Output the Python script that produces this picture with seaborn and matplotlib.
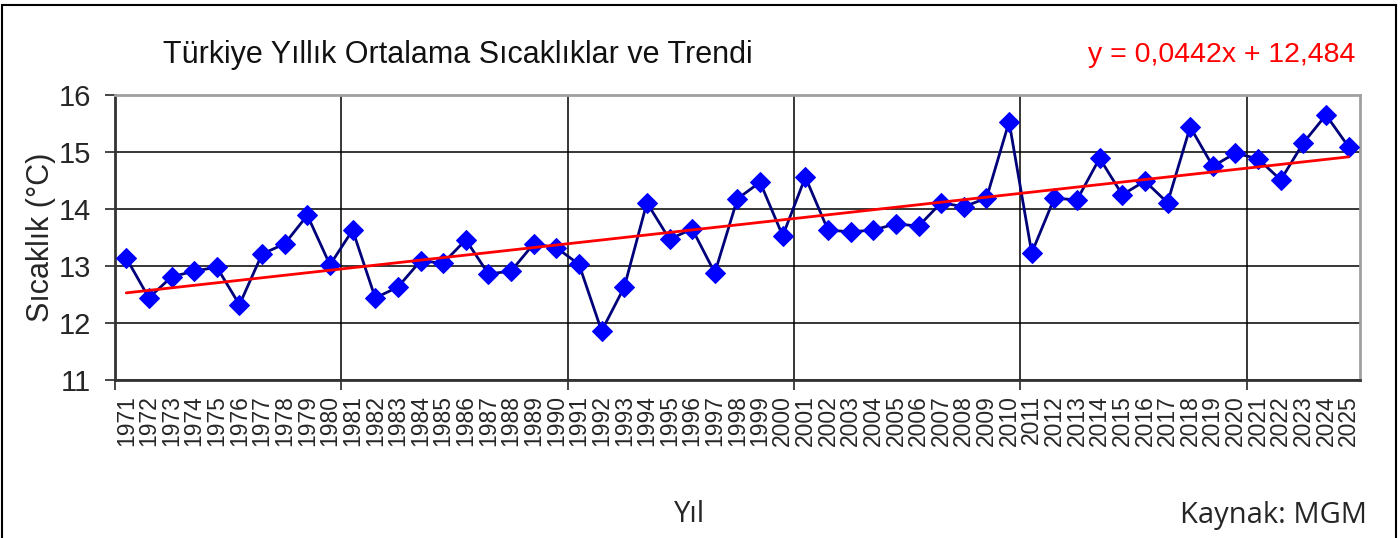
import numpy as np
import pandas as pd
import seaborn as sns
import matplotlib.pyplot as plt
from matplotlib.patches import Rectangle
from matplotlib.ticker import FixedLocator, NullFormatter

# data
years = list(range(1971, 2026))
temps = [13.14, 12.44, 12.81, 12.91, 12.98, 12.32, 13.21, 13.39, 13.89, 13.02,
         13.63, 12.44, 12.63, 13.09, 13.05, 13.46, 12.86, 12.91, 13.39, 13.32,
         13.03, 11.86, 12.63, 14.11, 13.47, 13.65, 12.88, 14.18, 14.47, 13.53,
         14.56, 13.63, 13.60, 13.63, 13.74, 13.70, 14.11, 14.04, 14.19, 15.53,
         13.23, 14.19, 14.16, 14.89, 14.25, 14.49, 14.11, 15.44, 14.75, 14.98,
         14.88, 14.51, 15.16, 15.65, 15.09]
slope = 0.0442
intercept = 12.484

df = pd.DataFrame({"idx": np.arange(len(years)), "year": years, "temp": temps})
df["trend"] = intercept + slope * (df["idx"] + 1)

sns.set_style("white")
plt.rcParams["font.family"] = ["Liberation Sans", "DejaVu Sans"]

fig = plt.figure(figsize=(14, 5.38), dpi=100)
ax = fig.add_axes([0.0821, 0.2937, 0.9714 - 0.0821, 0.8234 - 0.2937])

sns.lineplot(data=df, x="idx", y="temp", ax=ax, color="#00007a", linewidth=2,
             marker="D", markersize=10, markerfacecolor="#0000ff",
             markeredgecolor="#0000ff", zorder=3)
sns.lineplot(data=df, x="idx", y="trend", ax=ax, color="#ff0000", linewidth=2, zorder=4)

ax.set_xlim(-0.5, len(years) - 0.5)
ax.set_ylim(11, 16)
ax.set_yticks([11, 12, 13, 14, 15, 16])
ax.tick_params(axis="y", labelsize=21, length=7, width=1.2, direction="out", left=True, pad=10)

# category boundaries every 10 years, labels at centres
ax.xaxis.set_major_locator(FixedLocator(np.arange(-0.5, len(years), 10)))
ax.xaxis.set_major_formatter(NullFormatter())
ax.xaxis.set_minor_locator(FixedLocator(df["idx"]))
ax.set_xticklabels([str(y) for y in years], minor=True, rotation=90)
ax.tick_params(axis="x", which="major", length=7, width=1.2, direction="out", bottom=True)
ax.tick_params(axis="x", which="minor", length=0, labelsize=16.5, pad=11)

ax.grid(True, which="major", color="black", linewidth=1.1)
ax.set_axisbelow(True)
for side in ["left", "bottom"]:
    ax.spines[side].set_color("#333333")
    ax.spines[side].set_linewidth(2)
for side in ["top", "right"]:
    ax.spines[side].set_color("#a0a0a0")
    ax.spines[side].set_linewidth(2)

ax.set_xlabel("")
ax.set_ylabel("Sıcaklık (°C)", fontsize=22, labelpad=2)

fig.text(163 / 1400, 1 - 55 / 538, "Türkiye Yıllık Ortalama Sıcaklıklar ve Trendi",
         fontsize=22, ha="left", va="center", color="#111111")
fig.text(1355 / 1400, 1 - 55 / 538, "y = 0,0442x + 12,484", fontsize=20.5,
         ha="right", va="center", color="#ff0000")
fig.text(690 / 1400, 1 - 515 / 538, "Yıl", fontsize=21, ha="center", va="center",
         family=["Open Sans", "DejaVu Sans"])
fig.text(1367 / 1400, 1 - 515 / 538, "Kaynak: MGM", fontsize=21, ha="right", va="center",
         family=["Open Sans", "DejaVu Sans"])

fig.patches.append(Rectangle((2 / 1400, -0.01), 1394 / 1400, 1 - 5 / 538 + 0.01,
                             transform=fig.transFigure, fill=False,
                             edgecolor="black", linewidth=1.5))

fig.savefig("out.png", dpi=100, facecolor="white")
